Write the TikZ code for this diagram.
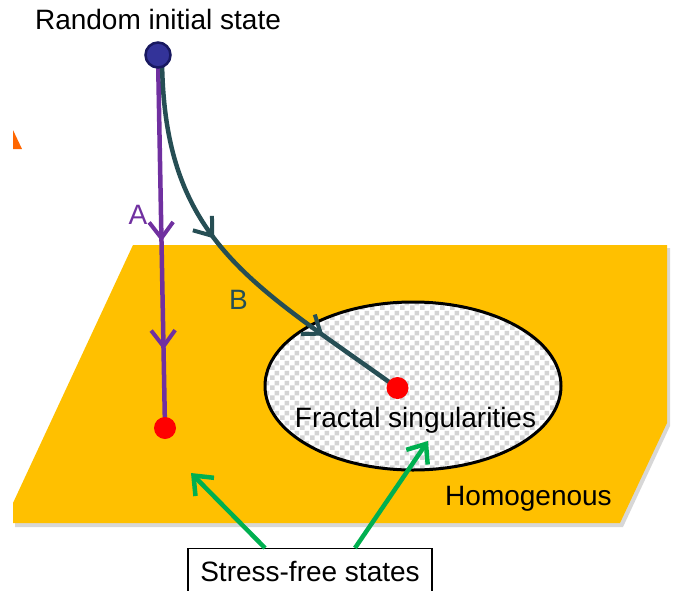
\documentclass[tikz,border=0pt]{standalone}
\usepackage{fontspec}
\setmainfont{Liberation Sans}
\usetikzlibrary{arrows.meta,decorations.markings,patterns.meta}
\definecolor{orangefill}{RGB}{255,192,0}
\definecolor{purp}{RGB}{112,48,160}
\definecolor{slate}{RGB}{38,78,84}
\definecolor{grn}{RGB}{0,176,80}
\definecolor{dotblue}{RGB}{51,51,153}
\definecolor{dotedge}{RGB}{24,24,96}
\definecolor{tri}{RGB}{255,102,0}
\pgfdeclarelayer{back}
\pgfdeclarelayer{mid}
\pgfsetlayers{back,mid,main}
\tikzdeclarepattern{
  name=mycheck,
  type=uncolored,
  bottom left={(0pt,0pt)},
  top right={(10pt,10pt)},
  tile size={(10pt,10pt)},
  code={\fill (0pt,0pt) rectangle (5pt,5pt); \fill (5pt,5pt) rectangle (10pt,10pt);}
}
\tikzset{
  txt/.style={font=\fontsize{28}{32}\selectfont, inner sep=0pt, anchor=base},
  bluedot/.style={circle, fill=dotblue, draw=dotedge, line width=2.5pt, minimum size=25, inner sep=0pt},
  reddot/.style={circle, fill=red, minimum size=22, inner sep=0pt},
  twomarks/.style n args={2}{decoration={markings,
      mark=at position #1 with {\arrow[line width=4pt]{Straight Barb[length=16pt,width=24pt]}},
      mark=at position #2 with {\arrow[line width=4pt]{Straight Barb[length=16pt,width=24pt]}}},
      postaction={decorate}},
  pathA/.style={purp, line width=4.5pt},
  pathB/.style={slate, line width=4.5pt},
  greenarrow/.style={grn, line width=4.5pt, -{Straight Barb[length=16pt,width=26pt]}},
}
\begin{document}
\begin{tikzpicture}[x=1pt,y=1pt]
\useasboundingbox (0,-590) rectangle (673,0);
\clip (0,-590) rectangle (673,0);
\begin{pgfonlayer}{back}
  % plane shadow and plane
  \fill[black!35, opacity=0.45] (136,-248) -- (670,-248) -- (670,-426) -- (623,-527) -- (15,-527) -- (15,-507) -- cycle;
  \fill[orangefill] (133,-245) -- (667,-245) -- (667,-423) -- (620,-523) -- (13,-523) -- (13,-503) -- cycle;
  % small orange triangle
  \fill[tri] (13,-130) -- (22,-149) -- (13,-149) -- cycle;
  % ellipse of fractal singularities
  \path[preaction={fill=white}, pattern={mycheck}, pattern color=black!17, draw=black, line width=3pt]
    (413,-386) ellipse [x radius=148, y radius=84];
\end{pgfonlayer}

\node[bluedot] (start) at (158,-55) {};
\node[reddot] (endA) at (165,-428) {};
\node[reddot] (endB) at (397.5,-388) {};
\coordinate (g1) at (191,-473);
\coordinate (g2) at (428,-441);

\node[txt] (title) at (158,-29.5) {Random initial state};
\node[txt, text=purp] (la) at (138,-224) {A};
\node[txt, text=slate] (lb) at (238.5,-309) {B};
\node[txt] (fs) at (415.5,-427) {Fractal singularities};
\node[txt] (hom) at (528.5,-505) {Homogenous};
\node[draw, line width=1.2pt, fill=white, minimum width=244, minimum height=45, anchor=north,
      inner sep=0pt, font=\fontsize{28}{32}\selectfont] (sfs) at (310,-548) {Stress-free states};

\begin{pgfonlayer}{mid}
  \draw[pathA, twomarks={0.5}{0.79}] (start.center) -- (endA.center);
  \draw[pathB, twomarks={0.45}{0.79}] ([xshift=4]start.center) .. controls (162,-240) and (250,-282) .. (endB.center);
\end{pgfonlayer}
\draw[greenarrow] ([xshift=-45]sfs.north) -- (g1);
\draw[greenarrow] ([xshift=45]sfs.north) -- (g2);
\end{tikzpicture}
\end{document}
